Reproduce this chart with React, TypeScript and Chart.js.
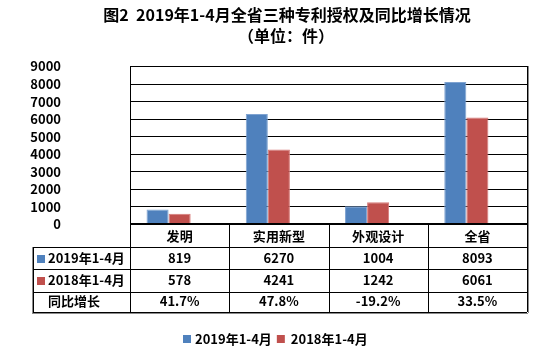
import React, { useEffect, useRef } from "react";
import { Chart, registerables } from "chart.js";

Chart.register(...registerables);

const titleLines = ["图2  2019年1-4月全省三种专利授权及同比增长情况", "（单位：件）"];
const categories = ["发明", "实用新型", "外观设计", "全省"];
const series2019 = [819, 6270, 1004, 8093];
const series2018 = [578, 4241, 1242, 6061];
const growthPct = [41.7, 47.8, -19.2, 33.5];
const seriesNames = ["2019年1-4月", "2018年1-4月"];
const growthName = "同比增长";
const yMin = 0;
const yMax = 9000;
const yStep = 1000;

const BLUE = "#4F81BD";
const RED = "#C0504D";
const FONT = "'Noto Sans CJK SC', 'Noto Sans', sans-serif";

const px = (v: number) => Math.round(v) + 0.5;

const gridPlugin = {
  id: "gridPlugin",
  beforeDatasetsDraw(chart: any) {
    const ctx = chart.ctx as CanvasRenderingContext2D;
    const area = chart.chartArea;
    const ys = chart.scales.y;
    ctx.save();
    ctx.strokeStyle = "#000";
    ctx.lineWidth = 1;
    ctx.beginPath();
    for (const t of ys.ticks) {
      const y = px(ys.getPixelForValue(t.value));
      ctx.moveTo(area.left, y);
      ctx.lineTo(area.right, y);
    }
    ctx.moveTo(px(area.left), area.top);
    ctx.lineTo(px(area.left), area.bottom);
    ctx.moveTo(px(area.right), area.top);
    ctx.lineTo(px(area.right), area.bottom);
    ctx.stroke();
    // y tick labels
    ctx.fillStyle = "#000";
    ctx.font = `bold 13px ${FONT}`;
    ctx.textAlign = "right";
    ctx.textBaseline = "middle";
    for (const t of ys.ticks) {
      ctx.fillText(String(t.value), 61, ys.getPixelForValue(t.value) + 0.5);
    }
    ctx.restore();
  },
};

const tablePlugin = {
  id: "tablePlugin",
  afterDraw(chart: any) {
    const ctx = chart.ctx as CanvasRenderingContext2D;
    const area = chart.chartArea;
    const xs = chart.scales.x;
    const n = categories.length;
    const cw = (area.right - area.left) / n;
    const W = chart.width;
    ctx.save();

    ctx.fillStyle = "#000";
    ctx.textAlign = "center";
    ctx.textBaseline = "middle";
    ctx.font = `bold 16px ${FONT}`;
    ctx.fillText(titleLines[0], 287, 15);
    ctx.fillText(titleLines[1], 286, 36);

    const y0 = area.bottom;
    const rows = [y0, y0 + 23, y0 + 45, y0 + 68, y0 + 88];
    const labelLeft = 33;

    ctx.strokeStyle = "#000";
    ctx.lineWidth = 2;
    ctx.beginPath();
    ctx.moveTo(area.left, y0);
    ctx.lineTo(area.right, y0);
    ctx.stroke();

    ctx.lineWidth = 1;
    ctx.beginPath();
    for (let r = 1; r < rows.length; r++) {
      ctx.moveTo(labelLeft, px(rows[r]));
      ctx.lineTo(area.right, px(rows[r]));
    }
    ctx.moveTo(px(labelLeft), rows[1]);
    ctx.lineTo(px(labelLeft), rows[4]);
    for (let i = 0; i <= n; i++) {
      const x = px(area.left + i * cw);
      ctx.moveTo(x, y0);
      ctx.lineTo(x, rows[4]);
    }
    ctx.stroke();

    ctx.strokeStyle = "#8a8a8a";
    ctx.beginPath();
    ctx.moveTo(px(labelLeft) - 1, rows[1]);
    ctx.lineTo(px(labelLeft) - 1, rows[4] + 1);
    ctx.moveTo(labelLeft - 1, px(rows[4]) + 1);
    ctx.lineTo(area.right + 1, px(rows[4]) + 1);
    ctx.moveTo(px(area.right) + 1, area.top);
    ctx.lineTo(px(area.right) + 1, rows[4] + 1);
    ctx.stroke();

    ctx.fillStyle = "#000";
    ctx.font = `bold 13px ${FONT}`;
    ctx.textBaseline = "middle";
    ctx.textAlign = "center";
    const rowMid = [236.5, 258.5, 280.5, 301.5].map((v) => v - 224 + y0);
    for (let i = 0; i < n; i++) {
      const cx = xs.getPixelForValue(i);
      ctx.fillText(categories[i], cx, rowMid[0]);
      ctx.fillText(String(series2019[i]), cx, rowMid[1]);
      ctx.fillText(String(series2018[i]), cx, rowMid[2]);
      ctx.fillText(growthPct[i].toFixed(1) + "%", cx, rowMid[3]);
    }
    ctx.textAlign = "left";
    ctx.fillStyle = BLUE;
    ctx.fillRect(37, Math.round(rowMid[1]) - 4, 8, 8);
    ctx.fillStyle = RED;
    ctx.fillRect(37, Math.round(rowMid[2]) - 4, 8, 8);
    ctx.fillStyle = "#000";
    ctx.fillText(seriesNames[0], 48, rowMid[1]);
    ctx.fillText(seriesNames[1], 48, rowMid[2]);
    ctx.fillText(growthName, 48, rowMid[3]);

    const ly = 339;
    const w1 = ctx.measureText(seriesNames[0]).width;
    const w2 = ctx.measureText(seriesNames[1]).width;
    const total = 8 + 4 + w1 + 5 + 8 + 6 + w2;
    let lx = Math.round(W / 2 - total / 2);
    ctx.fillStyle = BLUE;
    ctx.fillRect(lx, ly - 4, 8, 8);
    lx += 12;
    ctx.fillStyle = "#000";
    ctx.fillText(seriesNames[0], lx, ly);
    lx += w1 + 5;
    ctx.fillStyle = RED;
    ctx.fillRect(lx, ly - 4, 8, 8);
    lx += 14;
    ctx.fillStyle = "#000";
    ctx.fillText(seriesNames[1], lx, ly);

    ctx.restore();
  },
};

export default function App() {
  const ref = useRef<HTMLCanvasElement>(null);
  useEffect(() => {
    if (!ref.current) return;
    const chart = new Chart(ref.current, {
      type: "bar",
      data: {
        labels: categories,
        datasets: [
          {
            label: seriesNames[0],
            data: series2019,
            backgroundColor: BLUE,
            borderColor: "#7FA3D1",
            borderWidth: 1,
          },
          {
            label: seriesNames[1],
            data: series2018,
            backgroundColor: RED,
            borderColor: "#D77A78",
            borderWidth: 1,
          },
          {
            label: growthName,
            data: growthPct.map((v) => v / 100),
            backgroundColor: "rgba(0,0,0,0)",
            borderWidth: 0,
          },
        ],
      },
      options: {
        responsive: false,
        devicePixelRatio: 1,
        animation: false,
        layout: { padding: { left: 0, right: 24, top: 66, bottom: 133 } },
        datasets: { bar: { categoryPercentage: 0.667, barPercentage: 1 } },
        plugins: {
          legend: { display: false },
          title: { display: false },
          tooltip: { enabled: false },
        },
        scales: {
          x: { display: false },
          y: {
            min: yMin,
            max: yMax,
            ticks: { stepSize: yStep, autoSkip: false, display: false },
            grid: { display: false, drawTicks: false },
            border: { display: false },
            afterFit(scale: any) {
              scale.width = 130;
            },
          },
        },
      },
      plugins: [gridPlugin, tablePlugin],
    } as any);
    return () => chart.destroy();
  }, []);
  return (
    <div style={{ position: "fixed", left: 0, top: 0, width: 551, height: 357, background: "#fff" }}>
      <canvas ref={ref} width={551} height={357} />
    </div>
  );
}
